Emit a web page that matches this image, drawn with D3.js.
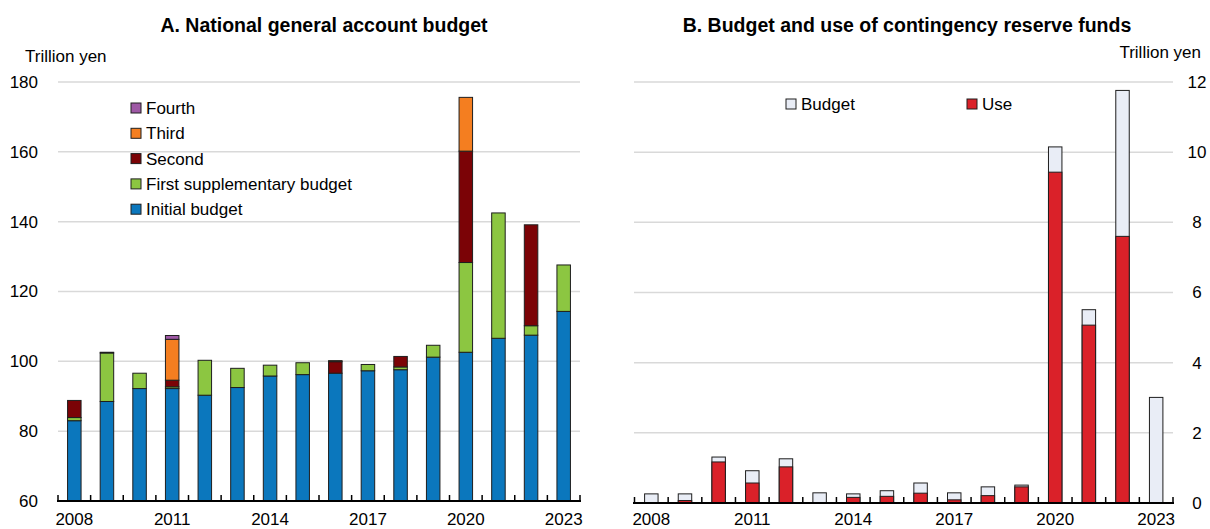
<!DOCTYPE html>
<html>
<head>
<meta charset="utf-8">
<script src="https://cdn.jsdelivr.net/npm/d3@7/dist/d3.min.js"></script>
<style>
  html, body { margin: 0; padding: 0; background: #fff; }
  svg { display: block; font-family: "Liberation Sans", Arial, Helvetica, sans-serif; }
</style>
</head>
<body>
<svg id="chart" width="1210" height="529"></svg>
<script>
// Fiscal years shown on both panels
const years = [2008, 2009, 2010, 2011, 2012, 2013, 2014, 2015, 2016, 2017, 2018, 2019, 2020, 2021, 2022, 2023];
const yearLabels = [2008, 2011, 2014, 2017, 2020, 2023];

// Panel A: general account budget by stage (trillion yen)
const initialBudget = [83.0, 88.5, 92.2, 92.2, 90.3, 92.5, 95.8, 96.2, 96.6, 97.3, 97.6, 101.2, 102.6, 106.6, 107.5, 114.3];
const firstSupp     = [0.9, 13.9, 4.4, 0.5, 10.0, 5.5, 3.1, 3.4, 0.0, 1.8, 0.8, 3.4, 25.7, 35.9, 2.7, 13.3];
const secondSupp    = [4.9, 0.2, 0.0, 1.9, 0.0, 0.0, 0.0, 0.0, 3.3, 0.0, 3.0, 0.0, 31.9, 0.0, 28.9, 0.0];
const thirdSupp     = [0.0, 0.0, 0.0, 11.7, 0.0, 0.0, 0.0, 0.0, 0.3, 0.0, 0.0, 0.0, 15.4, 0.0, 0.0, 0.0];
const fourthSupp    = [0.0, 0.0, 0.0, 1.1, 0.0, 0.0, 0.0, 0.0, 0.0, 0.0, 0.0, 0.0, 0.0, 0.0, 0.0, 0.0];
const ticksA = [60, 80, 100, 120, 140, 160, 180];

// Panel B: contingency reserve funds (trillion yen)
const reserveBudget = [0.26, 0.26, 1.31, 0.92, 1.26, 0.29, 0.26, 0.35, 0.57, 0.29, 0.46, 0.51, 10.15, 5.51, 11.76, 3.01];
const reserveUse    = [0.00, 0.07, 1.17, 0.57, 1.03, 0.00, 0.16, 0.19, 0.28, 0.09, 0.21, 0.46, 9.43, 5.07, 7.60, 0.00];
const ticksB = [0, 2, 4, 6, 8, 10, 12];

const stages = [
  { key: "initial", label: "Initial budget", values: initialBudget, color: "#0B77BD" },
  { key: "first", label: "First supplementary budget", values: firstSupp, color: "#8CC641" },
  { key: "second", label: "Second", values: secondSupp, color: "#7B0306" },
  { key: "third", label: "Third", values: thirdSupp, color: "#F47E20" },
  { key: "fourth", label: "Fourth", values: fourthSupp, color: "#9E58A5" }
];

const svg = d3.select("#chart");
const FS = 17;
const gridColor = "#D9D9D9";
const barStroke = "#1E1E1E";

// ---------- Panel A ----------
const xA = d3.scaleBand().domain(years).range([58, 580]).paddingInner(0.586).paddingOuter(0.293);
// axis starts at 60, so bars are clipped to the visible range
const yA = d3.scaleLinear().domain([60, 180]).range([501, 82]).clamp(true);

svg.append("text").attr("x", 324).attr("y", 32).attr("text-anchor", "middle")
  .attr("font-size", 19.5).attr("font-weight", "bold").text("A. National general account budget");
svg.append("text").attr("x", 25).attr("y", 62).attr("font-size", FS).text("Trillion yen");

const gA = svg.append("g");
gA.selectAll("line.grid").data(ticksA.filter(t => t > 60)).join("line")
  .attr("x1", 58).attr("x2", 580).attr("y1", d => yA(d)).attr("y2", d => yA(d))
  .attr("stroke", gridColor).attr("stroke-width", 1.5);

gA.selectAll("text.ytick").data(ticksA).join("text")
  .attr("x", 38).attr("y", d => yA(d)).attr("dy", "0.35em").attr("text-anchor", "end")
  .attr("font-size", FS).text(d => d);

const rowsA = years.map((yr, i) => {
  const r = { year: yr };
  stages.forEach(s => r[s.key] = s.values[i]);
  return r;
});
const stackA = d3.stack().keys(stages.map(s => s.key))(rowsA);

stackA.forEach((layer, li) => {
  gA.append("g").selectAll("rect").data(layer.filter(d => d[1] - d[0] > 0)).join("rect")
    .attr("x", d => xA(d.data.year))
    .attr("width", xA.bandwidth())
    .attr("y", d => yA(d[1]))
    .attr("height", d => yA(d[0]) - yA(d[1]))
    .attr("fill", stages[li].color)
    .attr("stroke", barStroke).attr("stroke-width", 1);
});

// x axis with upward ticks at category boundaries
const axisA = gA.append("g");
axisA.append("line").attr("x1", 57).attr("x2", 581).attr("y1", yA(60)).attr("y2", yA(60))
  .attr("stroke", "#000").attr("stroke-width", 2);
const boundsA = years.map(y => xA(y) - xA.step() * xA.paddingInner() / 2).concat([580]);
axisA.selectAll("line.tick").data(boundsA).join("line")
  .attr("x1", d => d).attr("x2", d => d).attr("y1", yA(60)).attr("y2", yA(60) - 6)
  .attr("stroke", "#000").attr("stroke-width", 1.5);
axisA.selectAll("text").data(yearLabels).join("text")
  .attr("x", d => xA(d) + xA.bandwidth() / 2).attr("y", 525).attr("text-anchor", "middle")
  .attr("font-size", FS).text(d => d);

// legend A (top to bottom: Fourth ... Initial)
const legA = gA.append("g");
const legOrder = stages.slice().reverse();
legOrder.forEach((s, i) => {
  const cy = 108 + i * 25.3;
  legA.append("rect").attr("x", 131).attr("y", cy - 5).attr("width", 10).attr("height", 10)
    .attr("fill", s.color).attr("stroke", barStroke).attr("stroke-width", 1);
  legA.append("text").attr("x", 146).attr("y", cy).attr("dy", "0.35em")
    .attr("font-size", FS).text(s.label);
});

// ---------- Panel B ----------
const xB = d3.scaleBand().domain(years).range([634.5, 1173]).paddingInner(0.6).paddingOuter(0.3);
const yB = d3.scaleLinear().domain([0, 12]).range([503, 82]);

svg.append("text").attr("x", 907).attr("y", 32).attr("text-anchor", "middle")
  .attr("font-size", 19.5).attr("font-weight", "bold").text("B. Budget and use of contingency reserve funds");
svg.append("text").attr("x", 1201).attr("y", 58).attr("text-anchor", "end").attr("font-size", FS).text("Trillion yen");

const gB = svg.append("g");
gB.selectAll("line.grid").data(ticksB.filter(t => t > 0)).join("line")
  .attr("x1", 634).attr("x2", 1173).attr("y1", d => yB(d)).attr("y2", d => yB(d))
  .attr("stroke", gridColor).attr("stroke-width", 1.5);
gB.selectAll("text.ytick").data(ticksB).join("text")
  .attr("x", 1197).attr("y", d => yB(d)).attr("dy", "0.35em").attr("text-anchor", "middle")
  .attr("font-size", FS).text(d => d);

const rowsB = years.map((yr, i) => ({ year: yr, budget: reserveBudget[i], use: reserveUse[i] }));

gB.append("g").selectAll("rect").data(rowsB.filter(d => d.budget > 0)).join("rect")
  .attr("x", d => xB(d.year)).attr("width", xB.bandwidth())
  .attr("y", d => yB(d.budget)).attr("height", d => yB(0) - yB(d.budget))
  .attr("fill", "#E9EDF6").attr("stroke", barStroke).attr("stroke-width", 1);
gB.append("g").selectAll("rect").data(rowsB.filter(d => d.use > 0)).join("rect")
  .attr("x", d => xB(d.year)).attr("width", xB.bandwidth())
  .attr("y", d => yB(d.use)).attr("height", d => yB(0) - yB(d.use))
  .attr("fill", "#DA2129").attr("stroke", barStroke).attr("stroke-width", 1);

const axisB = gB.append("g");
axisB.append("line").attr("x1", 633).attr("x2", 1174).attr("y1", yB(0)).attr("y2", yB(0))
  .attr("stroke", "#000").attr("stroke-width", 2);
const boundsB = years.map(y => xB(y) - xB.step() * xB.paddingInner() / 2).concat([1173]);
axisB.selectAll("line.tick").data(boundsB).join("line")
  .attr("x1", d => d).attr("x2", d => d).attr("y1", yB(0)).attr("y2", yB(0) - 6)
  .attr("stroke", "#000").attr("stroke-width", 1.5);
axisB.selectAll("text").data(yearLabels).join("text")
  .attr("x", d => xB(d) + xB.bandwidth() / 2).attr("y", 525).attr("text-anchor", "middle")
  .attr("font-size", FS).text(d => d);

// legend B
const legB = [
  { label: "Budget", color: "#E9EDF6", x: 786 },
  { label: "Use", color: "#DA2129", x: 967 }
];
legB.forEach(l => {
  gB.append("rect").attr("x", l.x).attr("y", 99).attr("width", 10).attr("height", 10)
    .attr("fill", l.color).attr("stroke", barStroke).attr("stroke-width", 1);
  gB.append("text").attr("x", l.x + 15).attr("y", 104).attr("dy", "0.35em")
    .attr("font-size", FS).text(l.label);
});
</script>
</body>
</html>
